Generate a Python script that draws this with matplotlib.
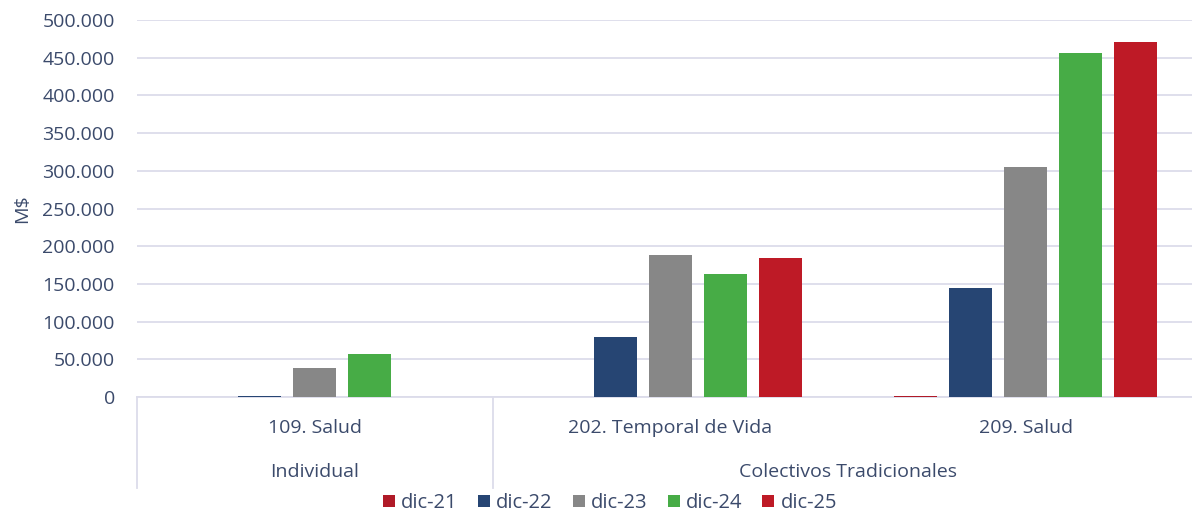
import numpy as np
import matplotlib.pyplot as plt
from matplotlib.ticker import FuncFormatter
from matplotlib.patches import Patch

plt.rcParams['font.family'] = ['Open Sans', 'DejaVu Sans']

# Data
categories = ['109. Salud', '202. Temporal de Vida', '209. Salud']
groups = ['Individual', 'Colectivos Tradicionales']
group_span = [(0, 0), (1, 2)]
series = ['dic-21', 'dic-22', 'dic-23', 'dic-24', 'dic-25']
values = {
    'dic-21': [500, 0, 1000],
    'dic-22': [1000, 80000, 144500],
    'dic-23': [38000, 188000, 305000],
    'dic-24': [56500, 163000, 456000],
    'dic-25': [0, 184000, 471000],
}
colors = ['#B01A28', '#264573', '#878787', '#47AC46', '#BE1A26']

text_c = '#3B4A6B'
grid_c = '#DCDCEA'

fig = plt.figure(figsize=(11.92, 5.14), dpi=100)
ax = fig.add_axes([137 / 1192, 1 - 397 / 514, 1066.5 / 1192, 377 / 514])

x = np.arange(len(categories))
step = 0.1547
width = 0.1215
for i, s in enumerate(series):
    ax.bar(x + (i - 2) * step, values[s], width, color=colors[i], zorder=3)

ax.set_xlim(-0.5, 2.5)
ax.set_ylim(0, 500000)
ax.set_yticks(np.arange(0, 500001, 50000))
ax.yaxis.set_major_formatter(FuncFormatter(lambda v, p: f'{int(v):,}'.replace(',', '.')))
ax.grid(axis='y', color=grid_c, linewidth=1.3, zorder=0)
ax.set_xticks([])
for sp in ['top', 'right', 'left']:
    ax.spines[sp].set_visible(False)
ax.spines['bottom'].set_color(grid_c)
ax.spines['bottom'].set_linewidth(1.3)
ax.tick_params(axis='y', length=0, labelsize=14, labelcolor=text_c, pad=16)
ax.set_ylabel('M$', fontsize=14, color=text_c, labelpad=8)

# Multi-level category axis
trans = ax.get_xaxis_transform()
for i, c in enumerate(categories):
    ax.text(i, -0.082, c, transform=trans, ha='center', va='center',
            fontsize=14, color=text_c)
for g, (a, b) in zip(groups, group_span):
    ax.text((a + b) / 2, -0.199, g, transform=trans, ha='center', va='center',
            fontsize=14, color=text_c)
for xs in [-0.5, 0.5]:
    ax.plot([xs, xs], [0, -0.241], transform=trans, color=grid_c,
            linewidth=1.3, clip_on=False)

handles = [Patch(facecolor=colors[i], label=s) for i, s in enumerate(series)]
fig.legend(handles=handles, loc='center', bbox_to_anchor=(610 / 1192, 1 - 503 / 514),
           ncol=5, frameon=False, fontsize=14.5, labelcolor=text_c,
           handlelength=0.6, handleheight=0.6, handletextpad=0.3, columnspacing=1.0)

fig.savefig('out.png', dpi=100)
